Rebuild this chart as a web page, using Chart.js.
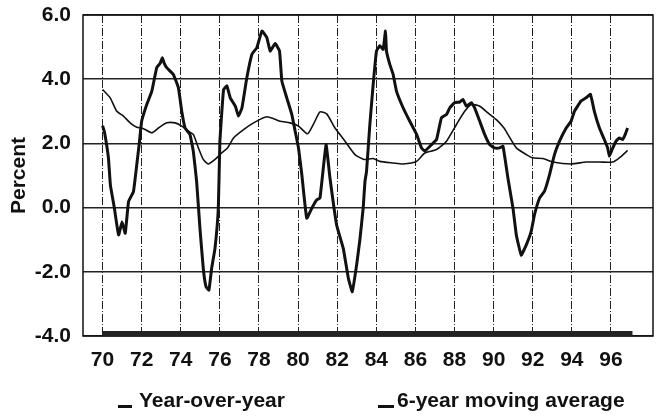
<!DOCTYPE html>
<html>
<head>
<meta charset="utf-8">
<script src="https://cdn.jsdelivr.net/npm/chart.js@4.4.0/dist/chart.umd.min.js"></script>
<style>
  body { margin: 0; background: #fff; }
  #wrap { position: relative; width: 661px; height: 416px; }
  .leg { position: absolute; top: 388px; font: bold 21px "Liberation Sans", Arial, sans-serif; color: #111; line-height: 24px; white-space: nowrap; }
  .dash { position: absolute; top: 405px; height: 3px; background: #111; }
</style>
</head>
<body>
<div id="wrap">
  <canvas id="chart" width="661" height="416"></canvas>
  <div class="dash" style="left:118px;width:14px"></div>
  <div class="leg" style="left:139px">Year-over-year</div>
  <div class="dash" style="left:378px;width:16px"></div>
  <div class="leg" style="left:397px">6-year moving average</div>
</div>
<script>
// year-over-year % change (thick line)
const yoyYears = [70.0, 70.1, 70.3, 70.4, 70.6, 70.82, 71.0, 71.16, 71.33, 71.58, 71.75, 71.87, 72.0, 72.26, 72.52, 72.77, 72.95, 73.06, 73.15, 73.28, 73.62, 73.88, 74.05, 74.22, 74.47, 74.64, 74.81, 74.98, 75.15, 75.29, 75.44, 75.58, 75.75, 75.92, 76.0, 76.09, 76.19, 76.36, 76.53, 76.79, 76.95, 77.13, 77.38, 77.64, 77.89, 78.15, 78.4, 78.57, 78.83, 79.05, 79.17, 79.42, 79.68, 79.85, 80.02, 80.19, 80.44, 80.7, 80.95, 81.12, 81.43, 81.63, 81.97, 82.31, 82.57, 82.77, 82.99, 83.16, 83.33, 83.42, 83.5, 83.67, 83.84, 84.01, 84.18, 84.35, 84.47, 84.52, 84.69, 84.86, 85.03, 85.37, 85.71, 86.06, 86.31, 86.48, 86.82, 87.08, 87.33, 87.59, 87.76, 88.01, 88.27, 88.43, 88.61, 88.86, 89.03, 89.29, 89.54, 89.8, 90.05, 90.31, 90.48, 90.73, 90.99, 91.16, 91.41, 91.67, 91.92, 92.09, 92.35, 92.6, 92.86, 93.11, 93.37, 93.71, 93.96, 94.13, 94.47, 94.73, 94.95, 95.15, 95.41, 95.66, 95.83, 95.92, 96.06, 96.26, 96.43, 96.6, 96.73, 96.85];
const yoyValues = [2.55, 2.35, 1.55, 0.71, 0.0, -0.85, -0.45, -0.8, 0.19, 0.5, 1.34, 1.96, 2.69, 3.21, 3.63, 4.36, 4.5, 4.67, 4.5, 4.36, 4.15, 3.73, 3.0, 2.48, 2.28, 1.76, 0.82, -0.64, -1.89, -2.46, -2.57, -1.89, -1.27, -0.02, 2.07, 2.9, 3.68, 3.79, 3.42, 3.16, 2.85, 3.11, 4.05, 4.78, 4.98, 5.5, 5.3, 4.88, 5.11, 4.88, 3.94, 3.42, 2.9, 2.38, 1.86, 1.03, -0.33, -0.02, 0.24, 0.3, 1.96, 0.92, -0.54, -1.27, -2.2, -2.62, -1.8, -1.0, 0.0, 0.82, 1.13, 2.59, 3.84, 4.88, 5.04, 4.93, 5.5, 4.88, 4.46, 4.15, 3.63, 3.11, 2.69, 2.28, 1.86, 1.76, 1.96, 2.12, 2.8, 2.9, 3.11, 3.27, 3.29, 3.37, 3.16, 3.27, 3.11, 2.69, 2.28, 1.96, 1.86, 1.86, 1.91, 0.92, -0.02, -0.85, -1.48, -1.16, -0.74, -0.22, 0.3, 0.51, 1.03, 1.65, 2.07, 2.48, 2.69, 3.0, 3.32, 3.42, 3.53, 3.0, 2.48, 2.12, 1.86, 1.6, 1.81, 2.07, 2.17, 2.12, 2.28, 2.48];

// 6-year moving average (thin line)
const maYears = [70.0, 70.39, 70.73, 71.07, 71.41, 71.75, 72.09, 72.52, 72.86, 73.28, 73.71, 74.05, 74.39, 74.64, 74.9, 75.15, 75.41, 75.75, 76.09, 76.39, 76.7, 77.21, 77.72, 78.4, 79.08, 79.59, 80.02, 80.48, 80.78, 81.12, 81.46, 81.89, 82.4, 82.91, 83.38, 83.84, 84.18, 84.86, 85.37, 86.06, 86.48, 87.08, 87.59, 88.1, 88.52, 88.86, 89.29, 89.71, 90.14, 90.53, 90.73, 91.16, 91.67, 92.0, 92.52, 93.03, 93.96, 94.73, 95.41, 96.09, 96.43, 96.85];
const maValues = [3.68, 3.42, 3.0, 2.85, 2.64, 2.5, 2.46, 2.33, 2.48, 2.64, 2.64, 2.54, 2.38, 2.28, 1.86, 1.5, 1.36, 1.5, 1.7, 1.86, 2.17, 2.43, 2.64, 2.83, 2.69, 2.64, 2.54, 2.3, 2.59, 2.98, 2.92, 2.48, 2.07, 1.65, 1.5, 1.53, 1.44, 1.39, 1.36, 1.44, 1.7, 1.81, 2.07, 2.59, 3.0, 3.21, 3.16, 2.95, 2.74, 2.48, 2.28, 1.86, 1.65, 1.55, 1.53, 1.42, 1.36, 1.42, 1.42, 1.42, 1.55, 1.78];

// dense monthly tick strip along the bottom axis
const stripYears = [70.0, 97.1];
const stripValues = [-3.92, -3.92];

const tickYears = [70, 72, 74, 76, 78, 80, 82, 84, 86, 88, 90, 92, 94, 96];
const yTicks = [-4, -2, 0, 2, 4, 6];

const pts = (xs, ys) => xs.map((x, i) => ({x: x, y: ys[i]}));
const font = {family: '"Liberation Sans", Arial, sans-serif', size: 21, weight: 'bold'};

const frame = {
  id: 'frame',
  beforeDatasetsDraw(chart) {
    const a = chart.chartArea, ctx = chart.ctx;
    ctx.save();
    ctx.strokeStyle = '#111';
    ctx.lineWidth = 1.5;
    ctx.strokeRect(a.left, a.top, a.right - a.left, a.bottom - a.top);
    ctx.restore();
  }
};

new Chart(document.getElementById('chart'), {
  type: 'line',
  data: {
    datasets: [
      {label: 'Year-over-year', data: pts(yoyYears, yoyValues), borderColor: '#111', borderWidth: 3, pointRadius: 0, tension: 0.1},
      {label: '6-year moving average', data: pts(maYears, maValues), borderColor: '#111', borderWidth: 1.6, pointRadius: 0, tension: 0.2},
      {label: 'strip', data: pts(stripYears, stripValues), borderColor: '#222', borderWidth: 5, pointRadius: 0}
    ]
  },
  options: {
    responsive: false,
    animation: false,
    layout: {padding: {top: 15, right: 8, left: 0, bottom: 0}},
    plugins: {legend: {display: false}, tooltip: {enabled: false}},
    scales: {
      x: {
        type: 'linear', min: 69, max: 98.15,
        afterBuildTicks: axis => { axis.ticks = tickYears.map(v => ({value: v})); },
        afterFit: s => { s.height = 80; s.paddingLeft = 0; s.paddingRight = 0; },
        ticks: {font: font, color: '#111', padding: 12, maxRotation: 0, autoSkip: false, callback: v => String(v)},
        grid: {color: '#222', lineWidth: 1, drawTicks: false},
        border: {display: false, dash: [8, 2, 1, 2]}
      },
      y: {
        min: -4, max: 6,
        afterBuildTicks: axis => { axis.ticks = yTicks.map(v => ({value: v})); },
        afterFit: s => { s.width = 83; s.paddingTop = 0; s.paddingBottom = 0; },
        ticks: {font: font, color: '#111', padding: 12, callback: v => v.toFixed(1)},
        grid: {color: '#222', lineWidth: 1.5, drawTicks: false},
        border: {display: false},
        title: {display: true, text: 'Percent', font: font, color: '#111', padding: {top: 7, bottom: 0}}
      }
    }
  },
  plugins: [frame]
});
</script>
</body>
</html>
